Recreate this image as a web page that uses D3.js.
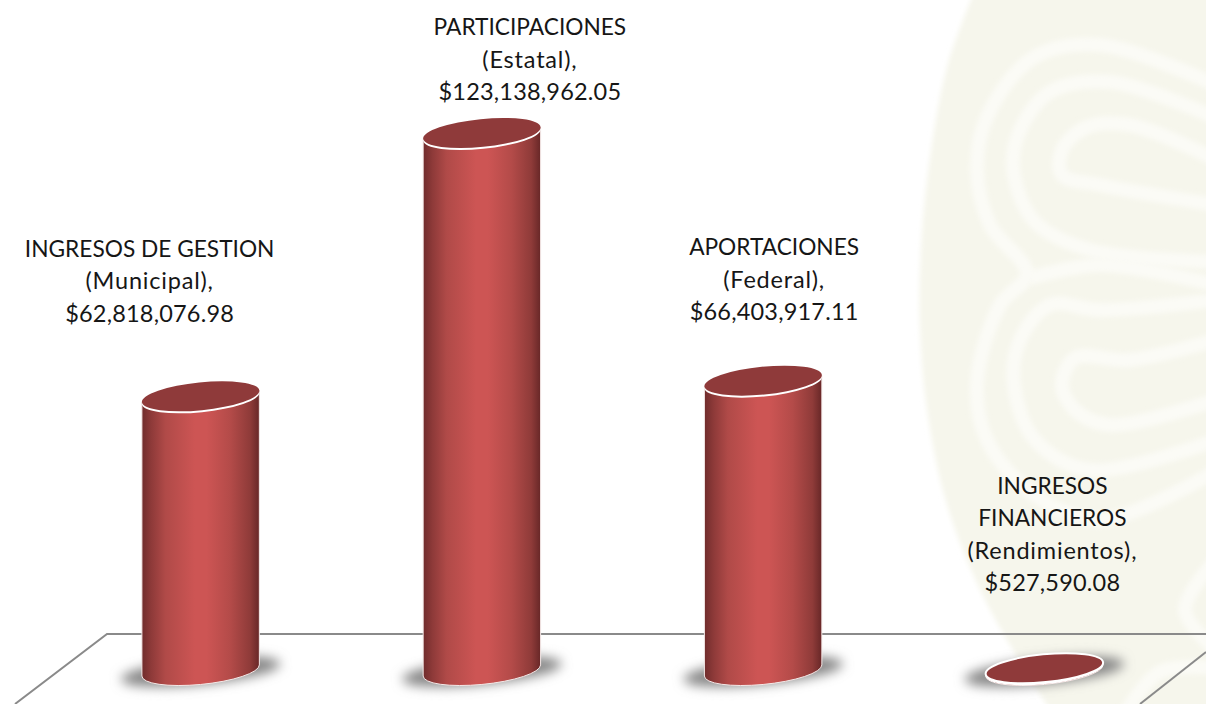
<!doctype html>
<html>
<head>
    <meta charset="utf-8">
    <script src="https://d3js.org/d3.v7.min.js"></script>
    <style>
        html, body { margin: 0; padding: 0; background: #fff; }
        svg { display: block; }
        text { font-family: Lato, "Open Sans", sans-serif; fill: #161616; }
    </style>
</head>
<body>
    <script>
        let categories = ["INGRESOS DE GESTION", "PARTICIPACIONES", "APORTACIONES", "INGRESOS FINANCIEROS"];
        let values = [62818076.98, 123138962.05, 66403917.11, 527590.08];
        let labelLines = [
            ["INGRESOS DE GESTION", "(Municipal),", "$62,818,076.98"],
            ["PARTICIPACIONES", "(Estatal),", "$123,138,962.05"],
            ["APORTACIONES", "(Federal),", "$66,403,917.11"],
            ["INGRESOS", "FINANCIEROS", "(Rendimientos),", "$527,590.08"]
        ];

        let width = 1206, height = 704;
        // labels were placed by hand in the original, so they are not centred on the bars
        let labelDx = [-51, 48, 11, 8];
        let labelTop = [247.5, 26, 246, 484.5];
        let lineGap = 32.6;

        let rx = 59, ry = 13.9, tilt = -5.7;

        let x = d3.scaleBand().domain(categories).range([60, 1185]);
        let y = d3.scaleLinear().domain([0, d3.max(values)]).range([670.5, 133]);

        let svg = d3.select("body").append("svg")
                    .attr("width", width).attr("height", height);
        let defs = svg.append("defs");

        let body = defs.append("linearGradient").attr("id", "cyl");
        [[0, "#702c2c"], [0.08, "#8e3a39"], [0.2, "#b04a48"], [0.45, "#cd5554"], [0.55, "#cd5554"], [0.75, "#b44b49"], [0.92, "#8f3b39"], [1, "#672727"]]
            .forEach(function(s){ body.append("stop").attr("offset", s[0]).attr("stop-color", s[1]); });

        defs.append("filter").attr("id", "blur").attr("x", "-30%").attr("y", "-100%").attr("width", "160%").attr("height", "300%")
            .append("feGaussianBlur").attr("stdDeviation", 6);
        defs.append("filter").attr("id", "soft").attr("filterUnits", "userSpaceOnUse")
            .attr("x", 880).attr("y", -20).attr("width", 360).attr("height", 760)
            .append("feGaussianBlur").attr("stdDeviation", 2.5);

        // watermark on the right
        let mark = svg.append("g");
        let line = d3.line().curve(d3.curveCatmullRom.alpha(0.5));
        let outline = [[975, -10], [947, 67], [927, 180], [920, 270], [920, 330], [927, 410], [947, 505], [985, 600], [1050, 710]];
        mark.append("path").attr("d", line(outline) + "L1240,710L1240,-10Z")
            .attr("fill", "#f6f6ec").attr("filter", "url(#soft)");
        let bands = [
            [[1216, 85], [1100, 45], [1033, 58], [987, 117], [977, 170], [990, 225], [1027, 274], [1000, 305], [977, 382], [987, 440], [1033, 494], [1100, 520], [1216, 471]],
            [[1216, 118], [1110, 82], [1050, 92], [1018, 135], [1014, 175], [1035, 222], [1090, 250], [1216, 262]],
            [[1216, 160], [1130, 125], [1085, 128], [1062, 150], [1062, 175], [1100, 185], [1216, 205]],
            [[1216, 300], [1100, 310], [1050, 305], [1020, 340], [1014, 385], [1035, 440], [1090, 470], [1216, 440]],
            [[1216, 340], [1130, 360], [1075, 358], [1062, 385], [1075, 410], [1110, 425], [1216, 400]],
            [[1030, 278], [1100, 265], [1216, 285]],
            [[1216, 560], [1185, 610], [1216, 650]],
            [[1125, 714], [1160, 672], [1216, 668]]
        ];
        mark.selectAll("path.band").data(bands).enter().append("path")
            .attr("class", "band")
            .attr("d", function(d){ return line(d); })
            .attr("fill", "none").attr("stroke", "#fbfbf6").attr("stroke-width", 14)
            .attr("filter", "url(#soft)");

        // floor outline
        let floor = d3.line();
        let floorLines = [[[15, 704], [107, 634], [1206, 634]], [[1140, 704], [1206, 652]]];
        svg.selectAll("path.floor").data(floorLines).enter().append("path")
            .attr("class", "floor")
            .attr("d", function(d){ return floor(d); })
            .attr("fill", "none").attr("stroke", "#8a8a8a").attr("stroke-width", 2);

        let rad = tilt * Math.PI / 180;
        let edgeX = Math.sqrt(rx * rx * Math.cos(rad) * Math.cos(rad) + ry * ry * Math.sin(rad) * Math.sin(rad));
        let edgeY = (rx * rx - ry * ry) * Math.sin(rad) * Math.cos(rad) / edgeX;

        let data = categories.map(function(c, i){ return {name: c, value: values[i], lines: labelLines[i], i: i}; });
        let bars = svg.selectAll("g.bar").data(data).enter().append("g").attr("class", "bar");

        function cx(d){ return x(d.name) + x.bandwidth() / 2; }
        function at(d, v, dy){ return "translate(" + cx(d) + "," + (y(v) + dy) + ") rotate(" + tilt + ")"; }

        bars.append("ellipse")
            .attr("rx", 80).attr("ry", 13)
            .attr("transform", function(d){ return at(d, 0, 1); })
            .attr("fill", "#858585")
            .attr("filter", "url(#blur)");

        // side of the cylinder, left tangent down, round the front of the base, back up
        bars.append("path")
            .attr("d", function(d){
                let c = cx(d), top = y(d.value), base = y(0);
                return "M" + (c - edgeX) + "," + (top - edgeY)
                    + "L" + (c - edgeX) + "," + (base - edgeY)
                    + "A" + rx + "," + ry + " " + tilt + " 0 0 " + (c + edgeX) + "," + (base + edgeY)
                    + "L" + (c + edgeX) + "," + (top + edgeY)
                    + "Z";
            })
            .attr("fill", "url(#cyl)")
            .attr("stroke", "#f4e9e8").attr("stroke-width", 1);

        // white rim: same ellipse slightly lower, showing as a crescent under the top
        bars.append("ellipse")
            .attr("rx", rx).attr("ry", ry)
            .attr("transform", function(d){ return at(d, d.value, 2); })
            .attr("fill", "#fff");

        bars.append("ellipse")
            .attr("rx", rx).attr("ry", ry)
            .attr("transform", function(d){ return at(d, d.value, 0); })
            .attr("fill", "#8f3a3a");

        // smallest bar shows only its top, outlined all round
        bars.filter(function(d){ return y(0) - y(d.value) < 10; })
            .append("ellipse")
            .attr("rx", rx).attr("ry", ry)
            .attr("transform", function(d){ return at(d, d.value, 0); })
            .attr("fill", "#8f3a3a").attr("stroke", "#fff").attr("stroke-width", 2);

        let labels = svg.selectAll("text.label").data(data).enter().append("text")
            .attr("class", "label")
            .attr("text-anchor", "middle")
            .attr("dominant-baseline", "central");
        labels.selectAll("tspan").data(function(d){
                return d.lines.map(function(t, j){ return {t: t, j: j, d: d}; });
            }).enter().append("tspan")
            .attr("x", function(l){ return cx(l.d) + labelDx[l.d.i]; })
            .attr("y", function(l){ return labelTop[l.d.i] + l.j * lineGap; })
            .attr("font-size", function(l){ return l.t === l.t.toUpperCase() && l.t[0] !== "$" ? 22.7 : 23.5; })
            .attr("letter-spacing", function(l){ return l.t[0] === "$" ? 0.2 : (l.t[0] === "(" ? 0.8 : 0); })
            .text(function(l){ return l.t; });
    </script>
</body>
</html>
